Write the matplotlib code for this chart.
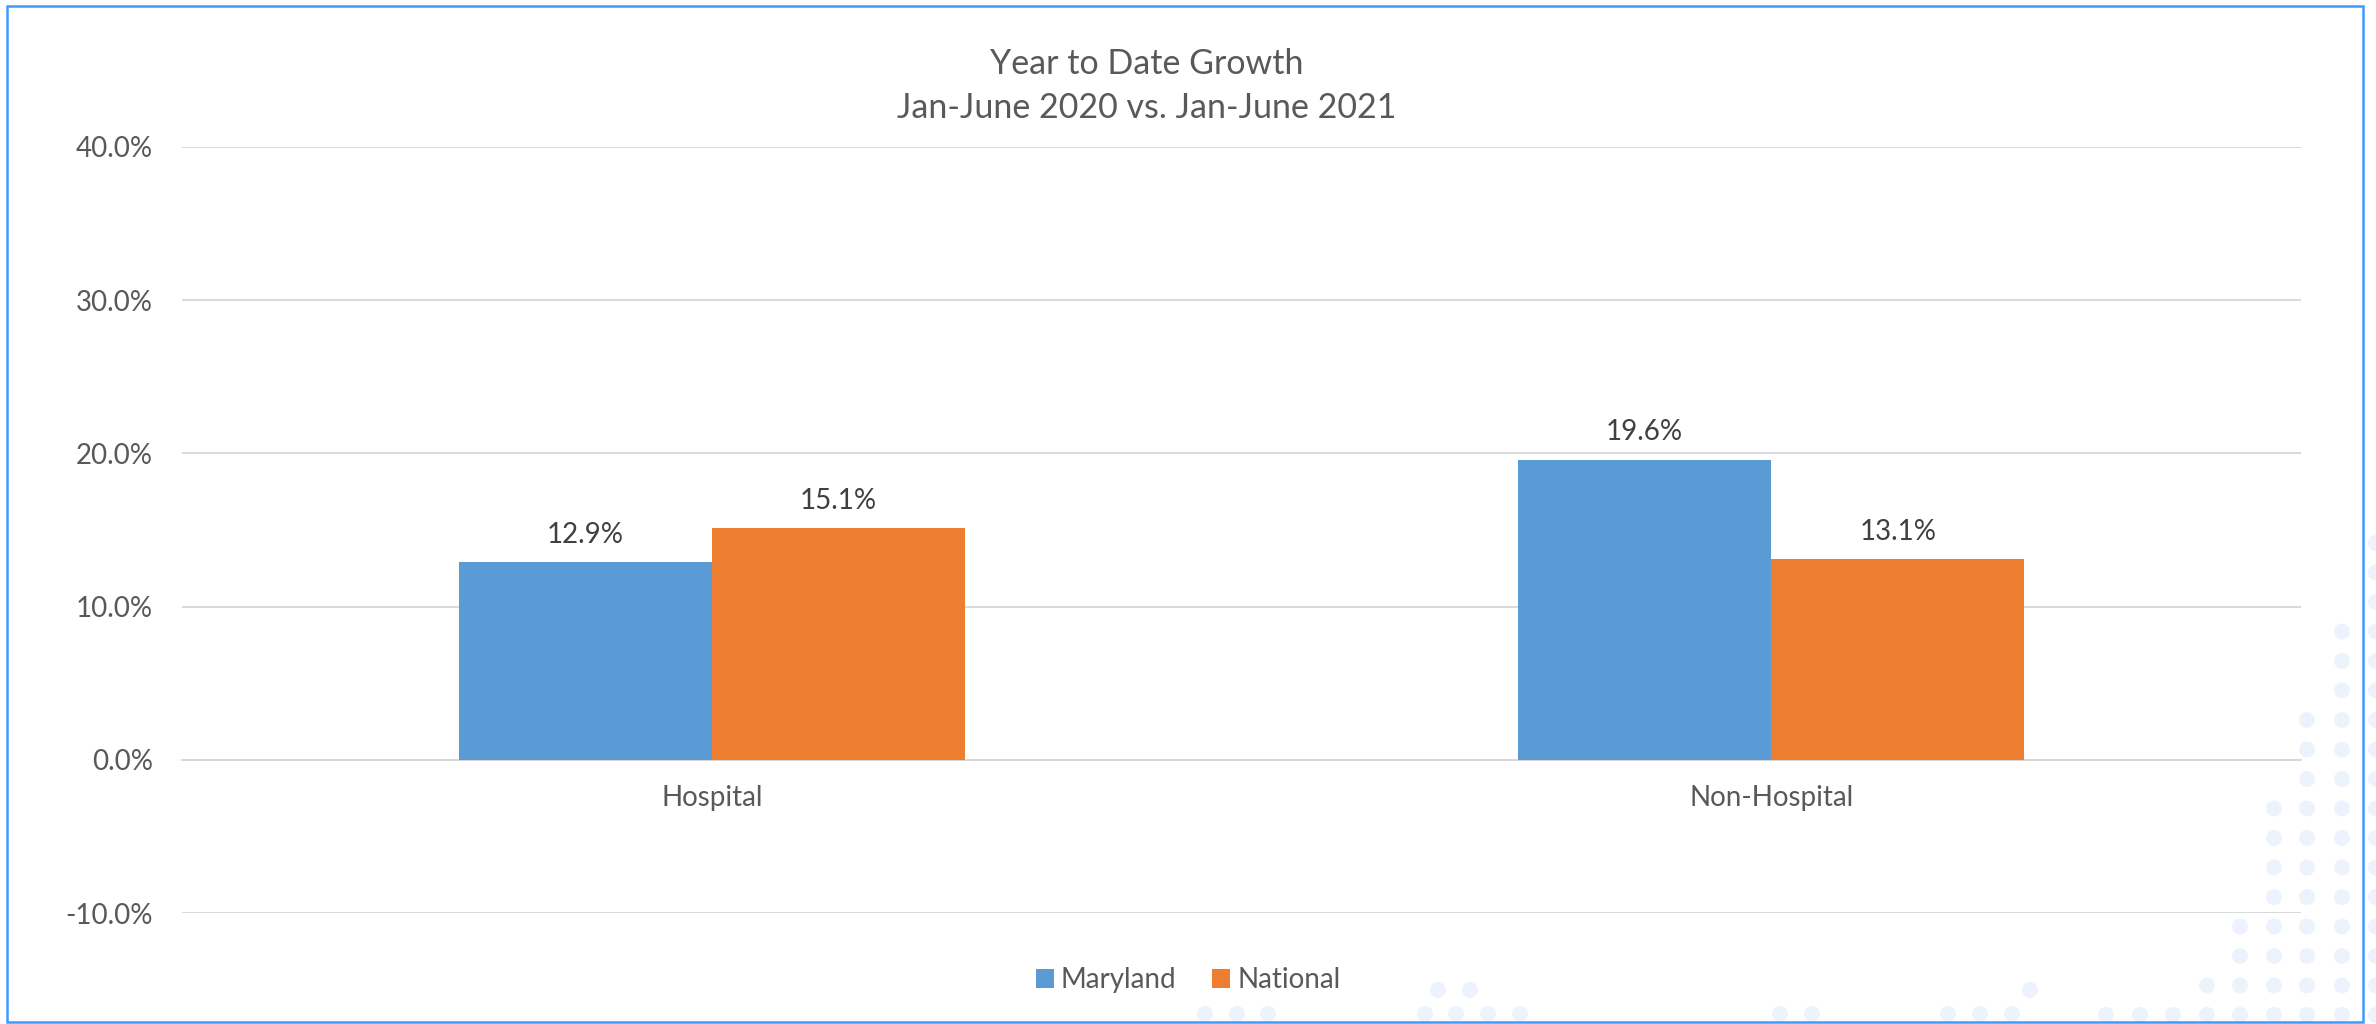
import numpy as np
import matplotlib.pyplot as plt
from matplotlib.patches import Rectangle, Ellipse

# ---- data ----
categories = ["Hospital", "Non-Hospital"]
series_names = ["Maryland", "National"]
maryland = [0.129, 0.196]
national = [0.151, 0.131]
yticks = [-0.10, 0.0, 0.10, 0.20, 0.30, 0.40]

title = "Year to Date Growth\nJan-June 2020 vs. Jan-June 2021"

BLUE = "#5B9BD5"
ORANGE = "#ED7D31"
GREY_TXT = "#595959"
LABEL_TXT = "#404040"
GRID = "#D9D9D9"

plt.rcParams["font.family"] = ["Lato", "DejaVu Sans"]

fig = plt.figure(figsize=(23.76, 10.24), dpi=100)
W, H = 2376, 1024


def dot(px, py):
    # faint background dot, given in pixel coords (top-left origin)
    fig.patches.append(Ellipse((px / W, 1 - py / H), 16 / W, 16 / H, transform=fig.transFigure,
                               facecolor="#EDF3FC", edgecolor="none", zorder=0))


# dotted decoration in the bottom right corner
col_x = [2342, 2307, 2274, 2240, 2207, 2173, 2140, 2106]
col_start = [610, 697, 787, 903, 963, 993, 1010, 1010]
for cx, y0 in zip(col_x, col_start):
    y = 1015
    while y >= y0:
        dot(cx, y)
        y -= 29.5
y = 1015
while y >= 520:
    dot(2376, y)
    y -= 29.5
for cx in [1205, 1237, 1268, 1425, 1456, 1488, 1520, 1780, 1812, 1948, 1980, 2012]:
    dot(cx, 1014)
for cx in [1438, 1470, 2030]:
    dot(cx, 990)

ax = fig.add_axes([182 / W, 1 - 913 / H, (2301 - 182) / W, (913 - 147) / H])
ax.patch.set_alpha(0)

x = np.arange(len(categories))
w = 0.239
b1 = ax.bar(x - w / 2, maryland, w, color=BLUE, label=series_names[0], zorder=3, linewidth=0)
b2 = ax.bar(x + w / 2, national, w, color=ORANGE, label=series_names[1], zorder=3, linewidth=0)

for bars, vals in [(b1, maryland), (b2, national)]:
    for rect, v in zip(bars, vals):
        ax.annotate(f"{v * 100:.1f}%", (rect.get_x() + rect.get_width() / 2, v),
                    xytext=(0, 14), textcoords="offset points", ha="center", va="baseline",
                    fontsize=20, color=LABEL_TXT)

ax.set_xlim(-0.5, 1.5)
ax.set_ylim(-0.10, 0.40)
ax.set_yticks(yticks)
ax.set_yticklabels([f"{t * 100:.1f}%" for t in yticks])
ax.set_xticks(x)
ax.set_xticklabels(categories)
ax.tick_params(axis="both", length=0, labelsize=20, labelcolor=GREY_TXT)
ax.tick_params(axis="y", pad=21)
ax.tick_params(axis="x", pad=18)

ax.grid(axis="y", color=GRID, linewidth=1.4, zorder=0)
for s in ["top", "right", "left"]:
    ax.spines[s].set_visible(False)
ax.spines["bottom"].set_position(("data", 0))
ax.spines["bottom"].set_color(GRID)
ax.spines["bottom"].set_linewidth(1.4)
ax.spines["bottom"].set_zorder(1)

fig.text(1147 / W, 1 - 86 / H, title, ha="center", va="center", fontsize=24.5,
         color=GREY_TXT, linespacing=1.45)

fig.legend(loc="center", bbox_to_anchor=(0.5, 1 - 980 / H), ncol=2, frameon=False,
           fontsize=20, labelcolor=GREY_TXT, handlelength=0.65, handleheight=0.65,
           handletextpad=0.25, columnspacing=1.3)

# chart border
fig.patches.append(Rectangle((7 / W, 1 - 1022 / H), (2363 - 7) / W, (1022 - 6) / H,
                             transform=fig.transFigure, fill=False, edgecolor="#3D9BFF",
                             linewidth=1.8, zorder=5))

fig.savefig("out.png", dpi=100)
